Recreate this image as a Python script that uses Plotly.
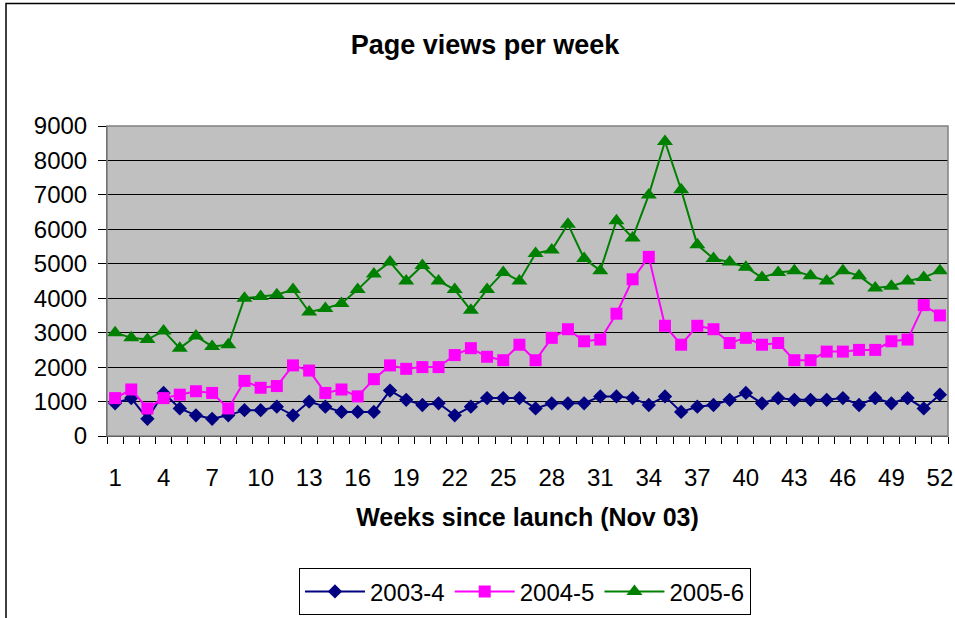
import plotly.graph_objects as go

weeks = list(range(1, 53))

views_2003_4 = [950, 1100, 500, 1250, 800, 600, 500, 600, 750, 750,
                850, 600, 1000, 850, 700, 700, 700, 1320, 1050, 900,
                950, 600, 850, 1100, 1100, 1100, 800, 950, 950, 950,
                1150, 1150, 1100, 900, 1150, 700, 850, 900, 1050, 1250,
                950, 1100, 1050, 1050, 1050, 1100, 900, 1100, 950, 1100,
                800, 1200]

views_2004_5 = [1100, 1350, 800, 1100, 1200, 1300, 1250, 800, 1600, 1400,
                1450, 2050, 1900, 1250, 1350, 1150, 1650, 2050, 1950, 2000,
                2000, 2350, 2550, 2300, 2200, 2650, 2200, 2850, 3100, 2750,
                2800, 3550, 4550, 5200, 3200, 2650, 3200, 3100, 2700, 2850,
                2650, 2700, 2200, 2200, 2450, 2450, 2500, 2500, 2750, 2800,
                3800, 3500]

views_2005_6 = [3000, 2850, 2800, 3050, 2550, 2900, 2600, 2650, 4000, 4050,
                4100, 4250, 3600, 3700, 3850, 4250, 4700, 5050, 4500, 4950,
                4500, 4250, 3650, 4250, 4750, 4500, 5300, 5400, 6150, 5150,
                4800, 6250, 5750, 7000, 8550, 7150, 5550, 5150, 5050, 4900,
                4600, 4750, 4800, 4650, 4500, 4800, 4650, 4300, 4350, 4500,
                4600, 4800]

series_names = ["2003-4", "2004-5", "2005-6"]
series_colors = ["#000080", "#FF00FF", "#008000"]
series_symbols = ["diamond", "square", "triangle-up"]
series_sizes = [11, 12, 14]

tick_labels = [str(w) for w in range(1, 53, 3)]
tick_positions = list(range(1, 53, 3))
y_ticks = list(range(0, 9001, 1000))

FONT = "Liberation Sans, Arial, sans-serif"

fig = go.Figure()
for name, vals, col, sym, sz in zip(series_names,
                                    [views_2003_4, views_2004_5, views_2005_6],
                                    series_colors, series_symbols, series_sizes):
    fig.add_trace(go.Scatter(
        x=weeks, y=vals, name=name, mode="lines+markers",
        line=dict(color=col, width=2),
        marker=dict(symbol=sym, size=sz, color=col, line=dict(width=0)),
    ))

fig.update_layout(
    width=955, height=618,
    margin=dict(l=107, r=7, t=126, b=182, autoexpand=False),
    paper_bgcolor="white",
    plot_bgcolor="#C0C0C0",
    font=dict(family=FONT, size=24, color="black"),
    title=dict(text="<b>Page views per week</b>", x=485 / 955, xanchor="center",
               y=1 - 45 / 618, yanchor="middle", yref="container",
               font=dict(family=FONT, size=27, color="black")),
    xaxis=dict(
        range=[0.5, 52.5], automargin=False,
        tickmode="array", tickvals=tick_positions, ticktext=tick_labels,
        ticks="outside", ticklen=0, tickcolor="black",
        showgrid=False, zeroline=False,
        showline=True, linecolor="black", linewidth=1,
        tickfont=dict(family=FONT, size=24, color="black"),
        ticklabelstandoff=20,
        minor=dict(tickmode="array",
                   tickvals=[w - 0.5 for w in range(1, 54)],
                   ticks="outside", ticklen=7, tickcolor="black", tickwidth=1,
                   showgrid=False),
        title=dict(text="<b>Weeks since launch (Nov 03)</b>", standoff=18,
                   font=dict(family=FONT, size=25, color="black")),
    ),
    yaxis=dict(
        range=[0, 9000], automargin=False, tickmode="array", tickvals=y_ticks,
        ticks="outside", ticklen=8, tickcolor="black", tickwidth=1,
        showgrid=True, gridcolor="black", gridwidth=1,
        zeroline=False,
        showline=True, linecolor="#404040", linewidth=1,
        tickfont=dict(family=FONT, size=24, color="black"),
        ticklabelstandoff=6,
    ),
    legend=dict(
        orientation="h", x=0.497, xanchor="center", y=-0.427, yanchor="top",
        bordercolor="black", borderwidth=1, bgcolor="white",
        font=dict(family=FONT, size=24, color="black"),
        itemwidth=60,
    ),
    showlegend=True,
)

# grey plot-area border
fig.add_shape(type="rect", xref="paper", yref="paper", x0=0, x1=1, y0=0, y1=1,
              line=dict(color="#808080", width=1.5), fillcolor="rgba(0,0,0,0)",
              layer="above")
# outer chart frame
fig.add_shape(type="rect", xref="paper", yref="paper",
              x0=(6 - 107) / 841, x1=1.2, y0=-0.8, y1=(436 - 3.5) / 310,
              line=dict(color="black", width=1.5), fillcolor="rgba(0,0,0,0)",
              layer="above")

fig.write_html("out.html",
               config={"displayModeBar": False},
               post_script="document.body.style.margin='0';document.body.style.overflow='hidden';")
